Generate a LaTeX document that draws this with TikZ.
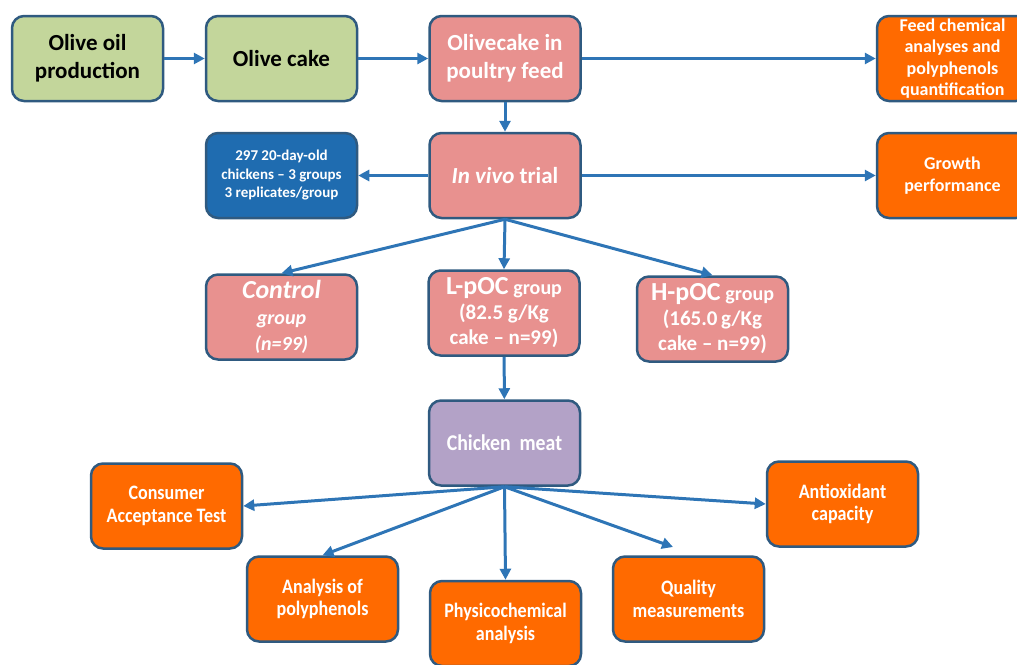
\documentclass[tikz,border=0pt]{standalone}
\usepackage{fontspec}
\setmainfont{Carlito}
\newfontfamily\narrowfont{Carlito}[FakeStretch=0.88]
\usetikzlibrary{arrows.meta}

\definecolor{boxline}{HTML}{2F5A80}
\definecolor{flowblue}{HTML}{2E75B6}
\definecolor{cakegreen}{HTML}{C3D69B}
\definecolor{feedpink}{HTML}{E8918F}
\definecolor{testorange}{HTML}{FF6A00}
\definecolor{birdblue}{HTML}{1F6CB0}
\definecolor{meatpurple}{HTML}{B3A2C7}

\newcommand{\fsz}[2]{\fontsize{#1}{#2}\selectfont}

\begin{document}
\begin{tikzpicture}[x=1pt,y=-1pt,line width=3pt,draw=flowblue,-{Triangle[length=11pt,width=11pt]}]
    \tikzstyle{box}=[rectangle,rounded corners=12pt,draw=boxline,line width=2.5pt,minimum width=151pt,minimum height=85pt,inner sep=2pt,align=center,text=white,font=\bfseries\fsz{23}{28}]
    \tikzstyle{greenbox}=[box,fill=cakegreen,text=black]
    \tikzstyle{pinkbox}=[box,fill=feedpink]
    \tikzstyle{orangebox}=[box,fill=testorange,font=\bfseries\fsz{18}{21.5}]
    \tikzstyle{bluebox}=[box,fill=birdblue,font=\bfseries\fsz{15}{18.5}]
    \tikzstyle{meatbox}=[box,fill=meatpurple,font=\narrowfont\bfseries\fsz{22.5}{24}]
    \tikzstyle{testbox}=[orangebox,font=\narrowfont\bfseries\fsz{20.5}{22.5}]

    \useasboundingbox (0,0) rectangle (1017,664);

    % Feed production
    \node[greenbox] (oil) at (87.5,58.5) {Olive oil\\production};
    \node[greenbox] (cake) at (281.5,58.5) {Olive cake};
    \node[pinkbox] (feed) at (505,58.5) {Olivecake in\\poultry feed};
    \node[orangebox] (chem) at (952.5,58.5) {Feed chemical\\analyses and\\polyphenols\\quantification};

    % Trial
    \node[pinkbox] (trial) at (505,175.5) {\textit{In vivo} trial};
    \node[bluebox] (birds) at (281.5,175.5) {297 20-day-old\\chickens -- 3 groups\\3 replicates/group};
    \node[orangebox] (growth) at (952.5,175.5) {Growth\\performance};

    % Groups
    \node[pinkbox,font=\bfseries\itshape\fsz{20}{26}] (control) at (281.5,317) {{\fsz{26}{26}Control}\\group\\(n=99)};
    \node[pinkbox,font=\bfseries\fsz{21}{25}] (lpoc) at (504,313) {{\fsz{26}{25}L-pOC} {\fsz{20}{25}group}\\(82.5 g/Kg\\cake -- n=99)};
    \node[pinkbox,font=\bfseries\fsz{21}{25}] (hpoc) at (712.5,319) {{\fsz{26}{25}H-pOC} {\fsz{20}{25}group}\\(165.0\,g/Kg\\cake -- n=99)};

    % Meat analyses
    \node[meatbox] (meat) at (504.5,443) {Chicken\ \ meat};
    \node[testbox] (consumer) at (166.5,506) {Consumer\\Acceptance Test};
    \node[testbox] (polyph) at (322.5,599) {Analysis of\\polyphenols};
    \node[testbox] (physchem) at (505.5,623.5) {Physicochemical\\analysis};
    \node[testbox] (quality) at (688.5,599) {Quality\\measurements};
    \node[testbox] (antiox) at (842.5,504) {Antioxidant\\capacity};
    \coordinate (qualtip) at (673,547);

    \path (oil) edge (cake);
    \path (cake) edge (feed);
    \path (feed) edge (chem);
    \path (feed) edge (trial);
    \path (trial) edge (birds);
    \path (trial) edge (growth);
    \path (trial.south) edge (control.north);
    \path (trial.south) edge (lpoc.north);
    \path (trial.south) edge (hpoc.north);
    \path (lpoc) edge (meat);
    \path (meat.south) edge (consumer.east);
    \path (meat.south) edge (polyph.north);
    \path (meat.south) edge (physchem.north);
    \path (meat.south) edge (qualtip);
    \path (meat.south) edge (antiox.west);
\end{tikzpicture}
\end{document}
